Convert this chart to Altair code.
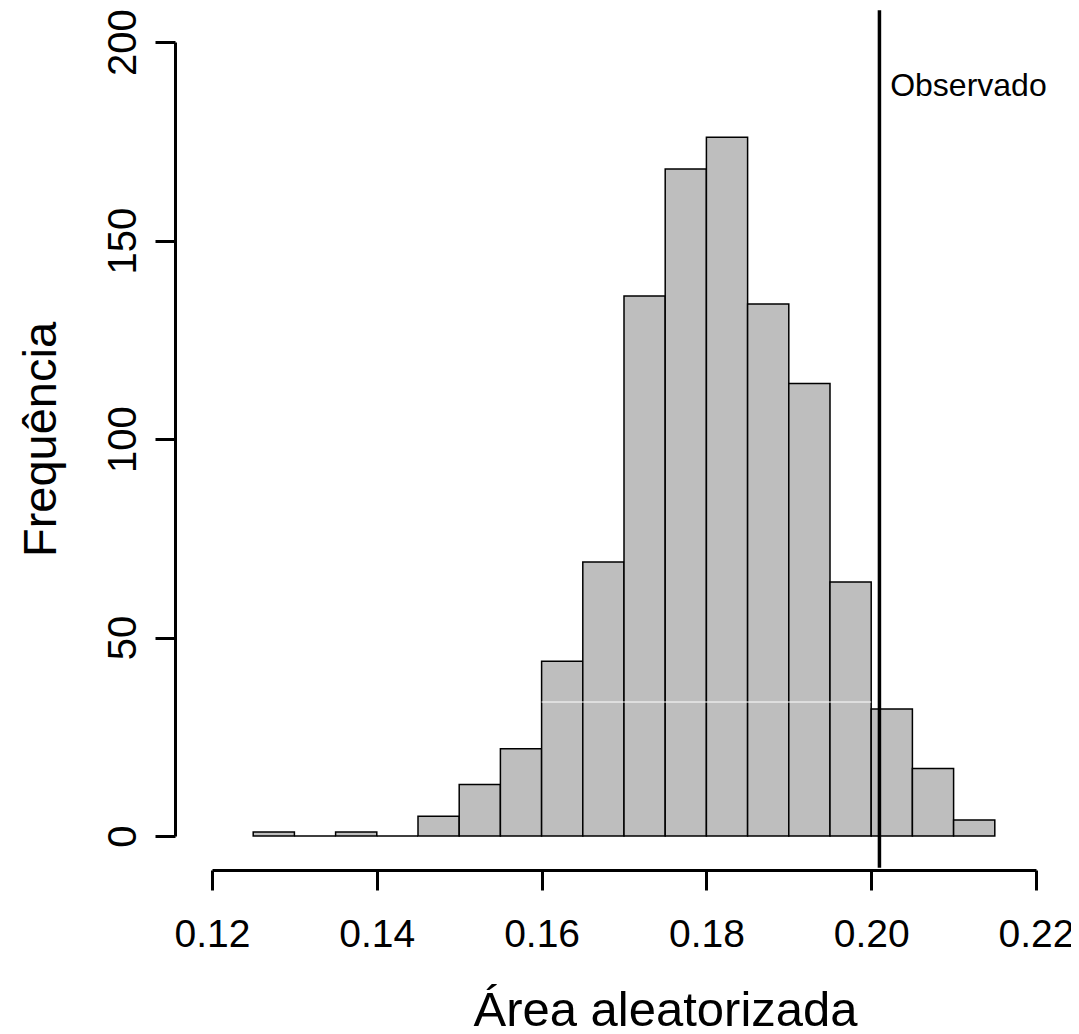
import altair as alt
import pandas as pd

# Histogram bins (left edges, right edges) and counts
bin_start = [0.125, 0.130, 0.135, 0.140, 0.145, 0.150, 0.155, 0.160, 0.165,
             0.170, 0.175, 0.180, 0.185, 0.190, 0.195, 0.200, 0.205, 0.210]
bin_end = [0.130, 0.135, 0.140, 0.145, 0.150, 0.155, 0.160, 0.165, 0.170,
           0.175, 0.180, 0.185, 0.190, 0.195, 0.200, 0.205, 0.210, 0.215]
counts = [1, 0, 1, 0, 5, 13, 22, 44, 69, 136, 168, 176, 134, 114, 64, 32, 17, 4]

# Observed value line and its label
observed_x = [0.201]
observed_y_range = [-8, 208]
label_text = ["Observado"]
label_x = [0.2023]
label_y = [186.4]

# Faint white segment across the central bars
seg_x = [0.160]
seg_x2 = [0.200]
seg_y = [33.75]

x_ticks = [0.12, 0.14, 0.16, 0.18, 0.20, 0.22]
y_ticks = [0, 50, 100, 150, 200]

FONT = "Liberation Sans"

bars_df = pd.DataFrame({"start": bin_start, "end": bin_end, "count": counts,
                        "zero": [0] * len(counts)})
obs_df = pd.DataFrame({"x": observed_x, "y": [observed_y_range[0]],
                       "y2": [observed_y_range[1]]})
lab_df = pd.DataFrame({"x": label_x, "y": label_y, "t": label_text})
seg_df = pd.DataFrame({"x": seg_x, "x2": seg_x2, "y": seg_y})

xscale = alt.Scale(domain=[0.12, 0.22], nice=False, zero=False)
yscale = alt.Scale(domain=[0, 200], nice=False, zero=False)

xaxis = alt.Axis(values=x_ticks, format=".2f", grid=False, offset=34,
                 domainWidth=3, domainColor="black", tickWidth=3, tickColor="black",
                 tickSize=20, labelFontSize=39, labelFont=FONT, labelColor="black",
                 labelPadding=25, labelBaseline="top", labelFlush=False,
                 labelOverlap=False,
                 title="Área aleatorizada", titleFont=FONT, titleFontSize=49,
                 titleFontWeight="normal", titleColor="black",
                 titleBaseline="alphabetic", titleY=155, titleX=453)

yaxis = alt.Axis(values=y_ticks, grid=False, offset=37,
                 domainWidth=3, domainColor="black", tickWidth=3, tickColor="black",
                 tickSize=20, labelFontSize=40, labelFont=FONT, labelColor="black",
                 labelAngle=270, labelAlign="center", labelBaseline="alphabetic",
                 labelPadding=20, labelFlush=False, labelOverlap=False,
                 title="Frequência", titleFont=FONT, titleFontSize=47,
                 titleFontWeight="normal", titleColor="black", titleAngle=270,
                 titleBaseline="alphabetic", titleX=-120)

bars = alt.Chart(bars_df).mark_rect(fill="#BEBEBE", stroke="black",
                                    strokeWidth=1.5).encode(
    x=alt.X("start:Q", scale=xscale, axis=xaxis),
    x2="end:Q",
    y=alt.Y("count:Q", scale=yscale, axis=yaxis),
    y2="zero:Q",
)

seg = alt.Chart(seg_df).mark_rule(color="white", strokeWidth=1).encode(
    x=alt.X("x:Q", scale=xscale), x2="x2:Q", y=alt.Y("y:Q", scale=yscale)
)

obs = alt.Chart(obs_df).mark_rule(color="black", strokeWidth=3.5).encode(
    x=alt.X("x:Q", scale=xscale), y=alt.Y("y:Q", scale=yscale), y2="y2:Q"
)

lab = alt.Chart(lab_df).mark_text(font=FONT, fontSize=32, align="left",
                                  baseline="alphabetic", color="black").encode(
    x=alt.X("x:Q", scale=xscale), y=alt.Y("y:Q", scale=yscale), text="t:N"
)

chart = alt.layer(bars, seg, obs, lab).properties(
    width=824, height=794,
    autosize=alt.AutoSizeParams(type="none"),
    padding={"left": 204, "top": 34, "right": 35, "bottom": 190},
).configure(background="white").configure_view(stroke=None, strokeWidth=0)

chart.save("out.html", embed_options={"renderer": "svg", "actions": False})
